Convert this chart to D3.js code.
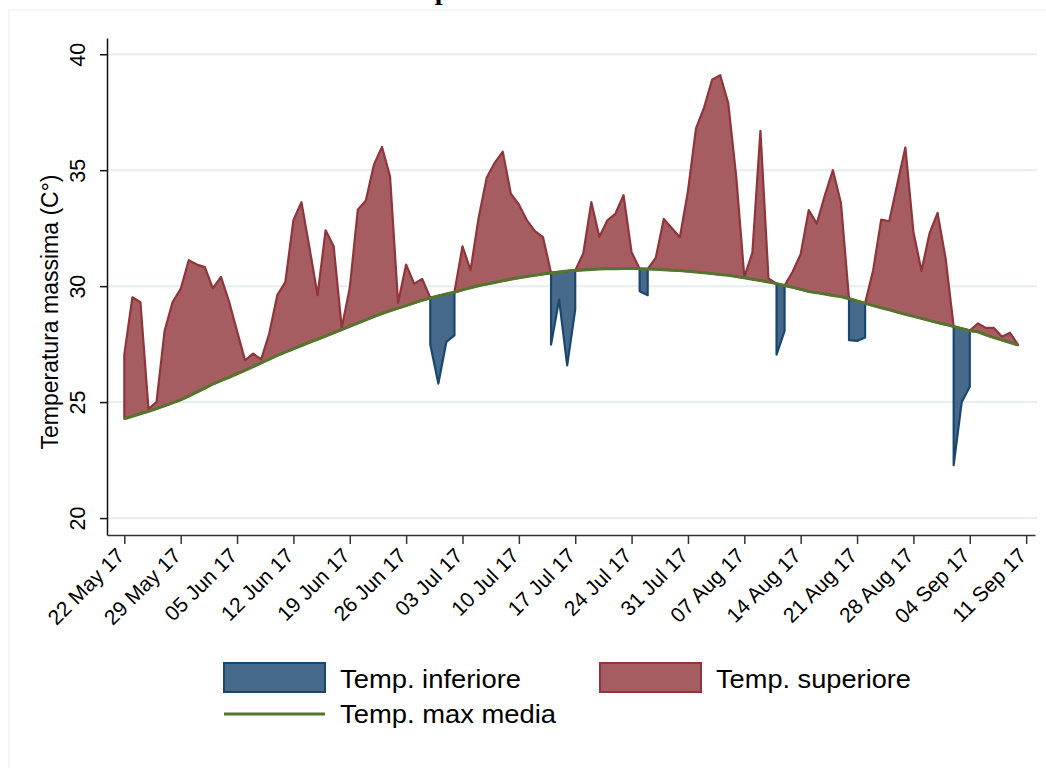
<!DOCTYPE html>
<html>
<head>
<meta charset="utf-8">
<script src="https://cdn.jsdelivr.net/npm/d3@7"></script>
<style>
  body { margin: 0; background: #fff; }
  svg { display: block; }
  text { font-family: "Liberation Sans", Arial, sans-serif; fill: #000; }
</style>
</head>
<body>
<div id="chart"></div>
<script>
// ---- data ----
var startDay = "2017-05-22";

// daily max temperature, 22 May 17 -> 10 Sep 17
var tempMax = [
  27.05, 29.52, 29.31, 24.71, 25.00, 28.06, 29.31, 29.88, 31.12, 30.93,
  30.82, 29.90, 30.40, 29.35, 28.06, 26.80, 27.09, 26.84, 27.96, 29.61,
  30.18, 32.84, 33.62, 31.65, 29.61, 32.41, 31.72, 28.20, 29.93, 33.30,
  33.69, 35.24, 36.00, 34.74, 29.28, 30.93, 30.11, 30.31, 27.48, 25.80,
  27.60, 27.88, 31.72, 30.69, 32.94, 34.67, 35.32, 35.80, 33.99, 33.52,
  32.84, 32.37, 32.11, 27.48, 29.42, 26.58, 28.99, 31.41, 33.62, 32.13,
  32.84, 33.13, 33.92, 31.46, 29.78, 29.61, 31.22, 32.90, 32.50, 32.11,
  34.10, 36.80, 37.70, 38.90, 39.10, 37.90, 34.70, 30.40, 31.44, 36.70,
  30.33, 27.05, 28.07, 30.62, 31.38, 33.28, 32.70, 33.92, 35.00, 33.59,
  27.67, 27.64, 27.79, 30.69, 32.87, 32.80, 34.40, 35.98, 32.34, 30.66,
  32.27, 33.16, 31.19, 22.28, 25.01, 25.66, 28.39, 28.20, 28.20, 27.82,
  27.99, 27.47
];

// average max temperature (smooth curve)
var tempMedia = [
  24.28, 24.39, 24.50, 24.60, 24.72, 24.84, 24.97, 25.10, 25.26, 25.43,
  25.60, 25.78, 25.93, 26.07, 26.22, 26.37, 26.53, 26.69, 26.85, 27.01,
  27.16, 27.30, 27.44, 27.58, 27.71, 27.85, 27.99, 28.13, 28.27, 28.41,
  28.55, 28.69, 28.82, 28.94, 29.05, 29.16, 29.28, 29.39, 29.49, 29.58,
  29.66, 29.74, 29.84, 29.93, 30.02, 30.09, 30.16, 30.23, 30.30, 30.36,
  30.42, 30.47, 30.52, 30.57, 30.61, 30.65, 30.68, 30.70, 30.72, 30.74,
  30.75, 30.75, 30.76, 30.76, 30.75, 30.74, 30.73, 30.71, 30.69, 30.67,
  30.64, 30.61, 30.58, 30.54, 30.50, 30.47, 30.42, 30.36, 30.30, 30.24,
  30.18, 30.11, 30.03, 29.95, 29.86, 29.77, 29.72, 29.66, 29.60, 29.55,
  29.46, 29.36, 29.26, 29.16, 29.07, 28.98, 28.88, 28.79, 28.70, 28.61,
  28.52, 28.43, 28.35, 28.26, 28.17, 28.08, 28.03, 27.90, 27.78, 27.68,
  27.57, 27.46
];

var yTicks = [20, 25, 30, 35, 40];
var xTickDates = [
  "2017-05-22", "2017-05-29", "2017-06-05", "2017-06-12", "2017-06-19",
  "2017-06-26", "2017-07-03", "2017-07-10", "2017-07-17", "2017-07-24",
  "2017-07-31", "2017-08-07", "2017-08-14", "2017-08-21", "2017-08-28",
  "2017-09-04", "2017-09-11"
];
var legendLabels = ["Temp. inferiore", "Temp. superiore", "Temp. max media"];

// ---- colours ----
var navy = "#1a476f", navyFill = "#486a8a";
var maroon = "#90353b", maroonFill = "#a65d61";
var green = "#55752f";
var gridCol = "#e6eeee";

var W = 1046, H = 768;
var DAY = 864e5;
var parse = d3.utcParse("%Y-%m-%d");
var t0 = parse(startDay);

var rows = tempMax.map(function(v, i) {
  return { date: d3.utcDay.offset(t0, i), temp: v, media: tempMedia[i] };
});

var svg = d3.select("#chart").append("svg")
  .attr("width", W)
  .attr("height", H);

// outer light frame
svg.append("rect")
  .attr("x", 9).attr("y", 10)
  .attr("width", W + 20).attr("height", H + 20)
  .attr("fill", "none")
  .attr("stroke", "#edf2f3")
  .attr("stroke-width", 1.2);

// title (mostly above the visible area, as in the original)
svg.append("text")
  .attr("x", 383)
  .attr("y", -1)
  .style("font-family", "'Liberation Serif', 'Times New Roman', serif")
  .style("font-weight", "bold")
  .attr("font-size", 28)
  .text("Temperatura massima");

var x = d3.scaleUtc()
  .domain([new Date(t0.getTime() - 2.15 * DAY), new Date(t0.getTime() + 113.1 * DAY)])
  .range([107, 1035]);

var y = d3.scaleLinear()
  .domain([19.27, 40.7])
  .range([535, 38]);

// gridlines
svg.append("g")
  .selectAll("line")
  .data(yTicks)
  .enter()
  .append("line")
  .attr("x1", 108).attr("x2", 1037)
  .attr("y1", function(d) { return y(d); })
  .attr("y2", function(d) { return y(d); })
  .attr("stroke", gridCol)
  .attr("stroke-width", 2);

// red area: above the average
var areaSup = d3.area()
  .x(function(d) { return x(d.date); })
  .y0(function(d) { return y(d.media); })
  .y1(function(d) { return y(Math.max(d.temp, d.media)); });

svg.append("path")
  .datum(rows)
  .attr("d", areaSup)
  .attr("fill", maroonFill)
  .attr("stroke", maroon)
  .attr("stroke-width", 2.2)
  .attr("stroke-linejoin", "round");

// blue area: below the average (only where temp < media)
var areaInf = d3.area()
  .defined(function(d) { return d.temp < d.media; })
  .x(function(d) { return x(d.date); })
  .y0(function(d) { return y(d.media); })
  .y1(function(d) { return y(d.temp); });

svg.append("path")
  .datum(rows)
  .attr("d", areaInf)
  .attr("fill", navyFill)
  .attr("stroke", navy)
  .attr("stroke-width", 2.2)
  .attr("stroke-linejoin", "round");

// average line
var mediaLine = d3.line()
  .x(function(d) { return x(d.date); })
  .y(function(d) { return y(d.media); });

svg.append("path")
  .datum(rows)
  .attr("d", mediaLine)
  .attr("fill", "none")
  .attr("stroke", green)
  .attr("stroke-width", 3);

// y axis
var yAxis = svg.append("g")
  .attr("transform", "translate(107,0)")
  .call(d3.axisLeft(y).tickValues(yTicks).tickSize(7).tickSizeOuter(0));
yAxis.select(".domain").attr("stroke", "#111").attr("stroke-width", 1.5);
yAxis.selectAll(".tick line").attr("stroke", "#111").attr("stroke-width", 1.5);
yAxis.selectAll(".tick text")
  .attr("x", 0).attr("dy", 0)
  .attr("text-anchor", "middle")
  .attr("transform", "translate(-22,0) rotate(-90)")
  .style("font-family", "'Liberation Sans', Arial, sans-serif")
  .attr("font-size", 21.5)
  .attr("fill", "#000");

// x axis
var xAxis = svg.append("g")
  .attr("transform", "translate(0,535)")
  .call(d3.axisBottom(x)
    .tickValues(xTickDates.map(parse))
    .tickFormat(d3.utcFormat("%d %b %y"))
    .tickSize(9)
    .tickSizeOuter(0));
xAxis.select(".domain").attr("stroke", "#333").attr("stroke-width", 1.5);
xAxis.selectAll(".tick line").attr("stroke", "#333").attr("stroke-width", 1.5);
xAxis.selectAll(".tick text")
  .attr("y", 0).attr("dy", 0)
  .attr("text-anchor", "end")
  .attr("transform", "translate(1,22) rotate(-45)")
  .style("font-family", "'Liberation Sans', Arial, sans-serif")
  .attr("font-size", 21)
  .attr("fill", "#000");

// y title
svg.append("text")
  .attr("transform", "translate(58,312) rotate(-90)")
  .attr("text-anchor", "middle")
  .attr("font-size", 23)
  .text("Temperatura massima (C°)");

// legend
var legend = svg.append("g");
legend.append("rect")
  .attr("x", 224).attr("y", 663).attr("width", 101).attr("height", 29)
  .attr("fill", navyFill).attr("stroke", navy).attr("stroke-width", 2);
legend.append("text")
  .attr("x", 340).attr("y", 688)
  .attr("font-size", 25)
  .attr("textLength", 181).attr("lengthAdjust", "spacingAndGlyphs")
  .text(legendLabels[0]);

legend.append("rect")
  .attr("x", 600).attr("y", 663).attr("width", 101).attr("height", 29)
  .attr("fill", maroonFill).attr("stroke", maroon).attr("stroke-width", 2);
legend.append("text")
  .attr("x", 716).attr("y", 688)
  .attr("font-size", 25)
  .attr("textLength", 195).attr("lengthAdjust", "spacingAndGlyphs")
  .text(legendLabels[1]);

legend.append("line")
  .attr("x1", 224).attr("x2", 325)
  .attr("y1", 714).attr("y2", 714)
  .attr("stroke", green).attr("stroke-width", 3);
legend.append("text")
  .attr("x", 340).attr("y", 723)
  .attr("font-size", 25)
  .attr("textLength", 216).attr("lengthAdjust", "spacingAndGlyphs")
  .text(legendLabels[2]);
</script>
</body>
</html>
